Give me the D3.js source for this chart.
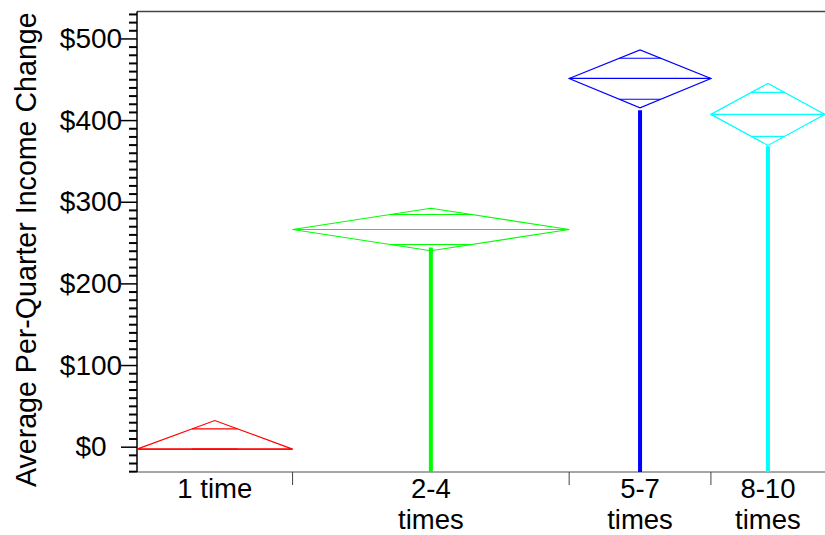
<!DOCTYPE html>
<html>
<head>
<meta charset="UTF-8">
<title>Means diamonds</title>
<style>
  body { margin: 0; background: #fff; }
  text { font-family: "Liberation Sans", Arial, sans-serif; fill: #000; }
</style>
</head>
<body>
<svg id="chart" width="825" height="535"></svg>
<script src="https://d3js.org/d3.v7.min.js"></script>
<script>
  // data
  var groups = ["1 time", "2-4 times", "5-7 times", "8-10 times"];
  var labelLines = [["1 time"], ["2-4", "times"], ["5-7", "times"], ["8-10", "times"]];
  var counts = [45, 80, 41, 33];          // group sizes -> band widths
  var means = [-3, 266, 451, 407];
  var upper = [32, 292, 486, 445];
  var lower = [-3, 240, 415, 369];
  var stems = [null, 244, 412, 368];
  var colors = ["#ff0000", "#00ff00", "#0000ff", "#00ffff"];
  var yTicks = [0, 100, 200, 300, 400, 500];

  var plotLeft = 137, plotRight = 825, plotTop = 11.5, plotBottom = 472;

  var svg = d3.select("#chart");

  // x: cumulative counts -> pixels
  var cum = [0].concat(Array.from(d3.cumsum(counts)));
  var x = d3.scaleLinear()
    .domain([0, d3.sum(counts)])
    .range([plotLeft, plotRight]);

  var y = d3.scaleLinear()
    .domain([-31, 533])
    .range([plotBottom, plotTop]);

  var data = groups.map(function(g, i) {
    return {
      name: g, lines: labelLines[i], color: colors[i],
      x0: x(cum[i]), x1: x(cum[i + 1]), xm: x((cum[i] + cum[i + 1]) / 2),
      mean: means[i], hi: upper[i], lo: lower[i], stem: stems[i]
    };
  });

  // frame lines
  svg.append("line")
    .attr("x1", plotLeft).attr("x2", plotRight).attr("y1", plotTop).attr("y2", plotTop)
    .attr("stroke", "#444").attr("stroke-width", 1.5);
  svg.append("line")
    .attr("x1", plotLeft).attr("x2", plotRight).attr("y1", plotBottom).attr("y2", plotBottom)
    .attr("stroke", "#888").attr("stroke-width", 1.5);

  // band separators below x axis
  svg.selectAll(".sep")
    .data(cum.slice(1, -1))
    .join("line")
    .attr("class", "sep")
    .attr("x1", d => x(d)).attr("x2", d => x(d))
    .attr("y1", plotBottom).attr("y2", plotBottom + 13)
    .attr("stroke", "#444").attr("stroke-width", 1);

  // minor ticks every $10
  var minor = svg.append("g")
    .attr("transform", "translate(" + plotLeft + ",0)")
    .call(d3.axisLeft(y)
      .tickValues(d3.range(-30, 531, 10).filter(v => v % 100 !== 0))
      .tickSize(8).tickSizeOuter(0).tickFormat(""));
  minor.select(".domain").remove();
  minor.selectAll("line").attr("stroke", "#000").attr("stroke-width", 2);

  // major ticks and labels
  var major = svg.append("g")
    .attr("transform", "translate(" + plotLeft + ",0)")
    .call(d3.axisLeft(y)
      .tickValues(yTicks)
      .tickSize(16).tickSizeOuter(0)
      .tickFormat(d => "$" + d));
  major.select(".domain")
    .attr("d", "M0," + plotTop + "V" + plotBottom)
    .attr("stroke", "#000").attr("stroke-width", 1.5);
  major.selectAll(".tick line").attr("stroke", "#000").attr("stroke-width", 1.5);
  major.selectAll(".tick text")
    .attr("x", -46)
    .attr("text-anchor", "middle")
    .style("font-size", "28px")
    .style("font-family", "'Liberation Sans', Arial, sans-serif");

  // stems
  svg.selectAll(".stem")
    .data(data.filter(d => d.stem !== null))
    .join("line")
    .attr("class", "stem")
    .attr("x1", d => d.xm).attr("x2", d => d.xm)
    .attr("y1", plotBottom).attr("y2", d => y(d.stem))
    .attr("stroke", d => d.color).attr("stroke-width", 4);

  // diamonds
  var dia = svg.selectAll(".dia")
    .data(data)
    .join("g")
    .attr("class", "dia")
    .attr("fill", "none")
    .attr("stroke", d => d.color)
    .attr("stroke-width", 1.2);

  dia.append("path")
    .attr("d", d => "M" + d.x0 + "," + y(d.mean) +
      "L" + d.xm + "," + y(d.hi) +
      "L" + d.x1 + "," + y(d.mean) +
      "L" + d.xm + "," + y(d.lo) + "Z");

  dia.append("line")
    .attr("x1", d => d.x0).attr("x2", d => d.x1)
    .attr("y1", d => y(d.mean)).attr("y2", d => y(d.mean));

  // overlap marks at mean +/- half-width / sqrt(2)
  var k = 1 / Math.SQRT2;
  dia.append("line")
    .attr("x1", d => d.xm - (d.xm - d.x0) * (1 - k))
    .attr("x2", d => d.xm + (d.x1 - d.xm) * (1 - k))
    .attr("y1", d => y(d.mean + (d.hi - d.mean) * k))
    .attr("y2", d => y(d.mean + (d.hi - d.mean) * k));
  dia.append("line")
    .attr("x1", d => d.xm - (d.xm - d.x0) * (1 - k))
    .attr("x2", d => d.xm + (d.x1 - d.xm) * (1 - k))
    .attr("y1", d => y(d.mean - (d.mean - d.lo) * k))
    .attr("y2", d => y(d.mean - (d.mean - d.lo) * k));

  // x labels
  var xl = svg.selectAll(".xlab")
    .data(data)
    .join("text")
    .attr("class", "xlab")
    .attr("text-anchor", "middle")
    .style("font-size", "27.5px");
  xl.selectAll("tspan")
    .data(d => d.lines.map(t => ({ t: t, x: d.xm })))
    .join("tspan")
    .attr("x", d => d.x)
    .attr("y", (d, i) => 498 + i * 31)
    .text(d => d.t);

  // y title
  svg.append("text")
    .attr("transform", "translate(36," + ((plotTop + plotBottom) / 2 + 8) + ") rotate(-90)")
    .attr("text-anchor", "middle")
    .style("font-size", "28.6px")
    .text("Average Per-Quarter Income Change");
</script>
</body>
</html>
